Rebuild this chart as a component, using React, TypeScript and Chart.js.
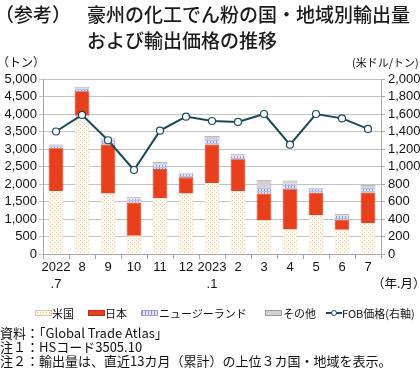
import React, { useEffect, useRef } from "react";
import { Chart, registerables } from "chart.js";

Chart.register(...registerables);

const categories: (string | string[])[] = [["2022", ".7"], "8", "9", "10", "11", "12", ["2023", ".1"], "2", "3", "4", "5", "6", "7"];
const usVolume = [1800, 3950, 1730, 520, 1600, 1730, 2030, 1800, 960, 700, 1110, 690, 880];
const japanVolume = [1220, 700, 1400, 950, 830, 460, 1100, 910, 770, 1150, 640, 290, 880];
const nzVolume = [60, 80, 140, 110, 130, 100, 150, 100, 180, 160, 100, 120, 140];
const otherVolume = [50, 50, 40, 40, 70, 30, 90, 40, 200, 90, 40, 40, 70];
const fobPrice = [1400, 1590, 1300, 960, 1410, 1570, 1520, 1510, 1600, 1250, 1600, 1550, 1430];

const seriesNames = ["米国", "日本", "ニュージーランド", "その他", "FOB価格(右軸)"];

const LAT = "'Liberation Sans', Arial, 'Noto Sans CJK JP', sans-serif";
const CJK = "'Noto Sans CJK JP', 'Liberation Sans', sans-serif";

function makeUsPattern(ctx: CanvasRenderingContext2D) {
  const c = document.createElement("canvas");
  c.width = 4;
  c.height = 4;
  const g = c.getContext("2d")!;
  g.fillStyle = "#fdf7ec";
  g.fillRect(0, 0, 4, 4);
  g.fillStyle = "#ead2ae";
  g.fillRect(0, 0, 1, 1);
  g.fillRect(2, 2, 1, 1);
  return ctx.createPattern(c, "repeat")!;
}

function makeNzPattern(ctx: CanvasRenderingContext2D) {
  const c = document.createElement("canvas");
  c.width = 3;
  c.height = 3;
  const g = c.getContext("2d")!;
  g.fillStyle = "#e4e6f8";
  g.fillRect(0, 0, 3, 3);
  g.fillStyle = "#8c96dc";
  g.fillRect(0, 0, 1, 3);
  g.fillStyle = "#b8bfec";
  g.fillRect(0, 2, 3, 1);
  return ctx.createPattern(c, "repeat")!;
}

const fmt = (v: number) => v.toLocaleString("en-US");

export default function App() {
  const ref = useRef<HTMLCanvasElement | null>(null);

  useEffect(() => {
    const canvas = ref.current!;
    const ctx = canvas.getContext("2d")!;
    const usPat = makeUsPattern(ctx);
    const nzPat = makeNzPattern(ctx);
    const chart = new Chart(ctx, {
      type: "bar",
      data: {
        labels: categories,
        datasets: [
          {
            type: "line",
            label: seriesNames[4],
            data: fobPrice,
            yAxisID: "y1",
            borderColor: "#1b4a5e",
            borderWidth: 2,
            pointRadius: 3.5,
            pointBackgroundColor: "#ffffff",
            pointBorderColor: "#1b4a5e",
            pointBorderWidth: 1.2,
            tension: 0,
            order: 0,
          } as any,
          {
            label: seriesNames[0],
            data: usVolume,
            backgroundColor: usPat,
            borderColor: "#ead8b8",
            borderWidth: 0.6,
            stack: "s",
            order: 1,
          },
          {
            label: seriesNames[1],
            data: japanVolume,
            backgroundColor: "#e8401c",
            borderColor: "#b8301a",
            borderWidth: 0.8,
            stack: "s",
            order: 1,
          },
          {
            label: seriesNames[2],
            data: nzVolume,
            backgroundColor: nzPat,
            borderColor: "#9aa0c8",
            borderWidth: 0.6,
            stack: "s",
            order: 1,
          },
          {
            label: seriesNames[3],
            data: otherVolume,
            backgroundColor: "#d2d2d2",
            borderColor: "#9a9a9a",
            borderWidth: 0.8,
            stack: "s",
            order: 1,
          },
        ],
      },
      options: {
        responsive: false,
        animation: false,
        layout: { padding: { top: 79, bottom: 0, left: 0, right: 0 } },
        datasets: { bar: { barPercentage: 0.57, categoryPercentage: 1 } },
        plugins: { legend: { display: false }, tooltip: { enabled: false }, title: { display: false } },
        scales: {
          x: {
            stacked: true,
            offset: true,
            grid: { offset: true, drawOnChartArea: false, drawTicks: true, tickLength: 5, color: "#a8a8a8" },
            border: { color: "#a8a8a8" },
            ticks: {
              font: { family: LAT, size: 13, lineHeight: 1.3 },
              color: "#111",
              padding: 0,
              maxRotation: 0,
              autoSkip: false,
            },
            afterFit: (s: any) => {
              s.height = 118;
            },
          },
          y: {
            stacked: true,
            position: "left",
            min: 0,
            max: 5000,
            grid: { color: "#c4c4c4", tickLength: 4 },
            border: { color: "#a8a8a8" },
            ticks: {
              stepSize: 500,
              autoSkip: false,
              font: { family: LAT, size: 13 },
              color: "#111",
              padding: 2,
              callback: (v: any) => fmt(Number(v)),
            },
            afterFit: (s: any) => {
              s.width = 43;
            },
          },
          y1: {
            position: "right",
            min: 0,
            max: 2000,
            grid: { drawOnChartArea: false, color: "#a8a8a8", tickLength: 4 },
            border: { color: "#a8a8a8" },
            ticks: {
              stepSize: 200,
              autoSkip: false,
              font: { family: LAT, size: 13 },
              color: "#111",
              padding: 3,
              callback: (v: any) => fmt(Number(v)),
            },
            afterFit: (s: any) => {
              s.width = 39;
            },
          },
        },
      },
    });
    return () => chart.destroy();
  }, []);

  const abs = (left: number, top: number, extra: React.CSSProperties = {}): React.CSSProperties => ({
    position: "absolute",
    left,
    top,
    whiteSpace: "nowrap",
    ...extra,
  });

  const titleStyle: React.CSSProperties = { fontFamily: CJK, fontSize: 19, lineHeight: "24px", color: "#1a1a1a", fontWeight: 500 };
  const noteStyle: React.CSSProperties = { fontFamily: CJK, fontSize: 13, lineHeight: "14px", color: "#111" };
  const legStyle: React.CSSProperties = { fontFamily: CJK, fontSize: 11, lineHeight: "14px", color: "#111" };
  const box = (left: number, bg: string, border: string, extra: React.CSSProperties = {}): React.CSSProperties => ({
    position: "absolute",
    left,
    top: 310,
    width: 17,
    height: 6,
    background: bg,
    border: `1px solid ${border}`,
    boxSizing: "border-box",
    ...extra,
  });

  return (
    <div style={{ position: "fixed", left: 0, top: 0, width: 420, height: 372, background: "#fff", overflow: "hidden" }}>
      <canvas ref={ref} width={420} height={372} style={{ position: "absolute", left: 0, top: 0, width: 420, height: 372 }} />
      <div style={abs(-5, 2, titleStyle)}>（参考）</div>
      <div style={abs(87, 2, titleStyle)}>豪州の化工でん粉の国・地域別輸出量</div>
      <div style={abs(87, 28, titleStyle)}>および輸出価格の推移</div>
      <div style={abs(-3, 55, { ...noteStyle, fontSize: 12 })}>（トン）</div>
      <div style={abs(352, 55, { ...noteStyle, fontSize: 11 })}>(米ドル/トン)</div>
      <div style={abs(372, 276, { ...noteStyle, fontSize: 12.5 })}>（年.月）</div>

      <div style={box(35, "radial-gradient(circle, #e0c296 0.6px, #fdf6ea 0.7px) 0 0/3px 3px", "#e0cba8")} />
      <div style={abs(52, 306, legStyle)}>{seriesNames[0]}</div>
      <div style={box(88, "#e8401c", "#b8301a")} />
      <div style={abs(105, 306, legStyle)}>{seriesNames[1]}</div>
      <div style={box(141, "repeating-linear-gradient(90deg, #8c96dc 0 1px, #e4e6f8 1px 3px)", "#9aa0c8")} />
      <div style={abs(159, 306, legStyle)}>{seriesNames[2]}</div>
      <div style={box(265, "#d2d2d2", "#9a9a9a")} />
      <div style={abs(283, 306, legStyle)}>{seriesNames[3]}</div>
      <div style={{ position: "absolute", left: 326, top: 312, width: 16, height: 2, background: "#1b4a5e" }} />
      <div style={{ position: "absolute", left: 331, top: 310, width: 6, height: 6, borderRadius: "50%", background: "#fff", border: "1.2px solid #1b4a5e", boxSizing: "border-box" }} />
      <div style={abs(342, 306, legStyle)}>{seriesNames[4]}</div>

      <div style={abs(0, 326, noteStyle)}>資料：「Global Trade Atlas」</div>
      <div style={abs(0, 340, noteStyle)}>注１：HSコード3505.10</div>
      <div style={abs(0, 354, noteStyle)}>注２：輸出量は、直近13カ月（累計）の上位３カ国・地域を表示。</div>
    </div>
  );
}
